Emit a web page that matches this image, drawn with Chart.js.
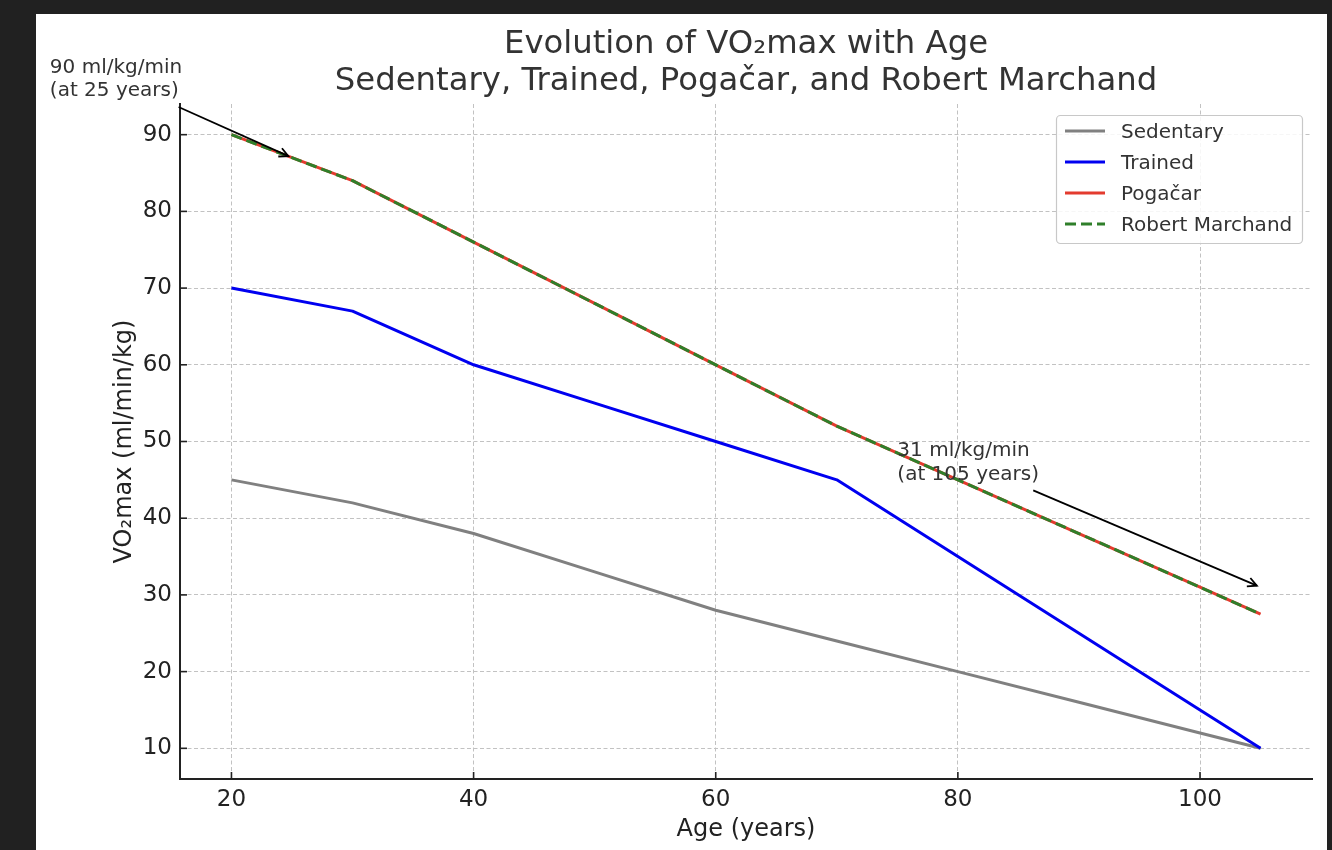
<!DOCTYPE html>
<html>
<head>
<meta charset="utf-8">
<script src="https://cdn.jsdelivr.net/npm/chart.js@4.4.1/dist/chart.umd.min.js"></script>
<style>
  html, body { margin: 0; padding: 0; background: #212121; }
  #wrap { position: absolute; left: 36px; top: 14px; width: 1291px; height: 836px; background: #fff; }
</style>
</head>
<body>
<div id="wrap"><canvas id="chart"></canvas></div>
<script>
/* ---------- Data ---------- */
const ages = [20, 30, 40, 50, 60, 70, 80, 90, 100, 105];
const sedentary = [45, 42, 38, 33, 28, 24, 20, 16, 12, 10];
const trained = [70, 67, 60, 55, 50, 45, 35, 25, 15, 10];
const pogacar = [90, 84, 76, 68, 60, 52, 45, 38, 31, 27.5];
const marchand = [90, 84, 76, 68, 60, 52, 45, 38, 31, 27.5];

const xTicks = [20, 40, 60, 80, 100];
const yTicks = [10, 20, 30, 40, 50, 60, 70, 80, 90];

const titleLines = ["Evolution of VO₂max with Age", "Sedentary, Trained, Pogačar, and Robert Marchand"];

// annotation text position and arrow target, in data units
const notes = [
    { text: ["90 ml/kg/min", "(at 25 years)"], at: [5, 95], target: [25, 87] },
    { text: ["31 ml/kg/min", "(at 105 years)"], at: [75, 45], target: [105, 31] }
];

const FONT = "'DejaVu Sans', 'Liberation Sans', sans-serif";

function points(ys) {
    return ages.map((a, i) => ({ x: a, y: ys[i] }));
}

/* ---------- Extra drawing: ticks, title, legend, arrows ---------- */
function line(ctx, x1, y1, x2, y2) {
    ctx.beginPath();
    ctx.moveTo(x1, y1);
    ctx.lineTo(x2, y2);
    ctx.stroke();
}

const decor = {
    id: "decor",
    afterDraw(chart) {
        const ctx = chart.ctx;
        const ca = chart.chartArea;
        const xs = chart.scales.x;
        const ys = chart.scales.y;
        ctx.save();

        // inward tick marks
        ctx.strokeStyle = "#222";
        ctx.lineWidth = 1.6;
        xTicks.forEach(v => {
            const px = xs.getPixelForValue(v);
            line(ctx, px, ca.bottom, px, ca.bottom - 7);
        });
        yTicks.forEach(v => {
            const py = ys.getPixelForValue(v);
            line(ctx, ca.left, py, ca.left + 7, py);
        });

        // title
        ctx.fillStyle = "#333";
        ctx.font = "32.3px " + FONT;
        ctx.textAlign = "center";
        ctx.textBaseline = "alphabetic";
        const cx = (ca.left + ca.right) / 2;
        ctx.fillText(titleLines[0], cx, 39);
        ctx.fillText(titleLines[1], cx, 76);

        // legend
        const bw = 246, bh = 128;
        const bx = ca.right - 10 - bw, by = ca.top + 11;
        ctx.beginPath();
        ctx.roundRect(bx + 0.5, by + 0.5, bw, bh, 4);
        ctx.fillStyle = "rgba(255,255,255,0.85)";
        ctx.fill();
        ctx.strokeStyle = "#c8c8c8";
        ctx.lineWidth = 1.2;
        ctx.stroke();
        ctx.font = "20px " + FONT;
        ctx.textAlign = "left";
        ctx.textBaseline = "middle";
        chart.data.datasets.forEach((ds, i) => {
            const ry = by + 16 + i * 31;
            ctx.strokeStyle = ds.borderColor;
            ctx.lineWidth = 3;
            ctx.setLineDash(ds.borderDash || []);
            line(ctx, bx + 9, ry, bx + 49, ry);
            ctx.setLineDash([]);
            ctx.fillStyle = "#333";
            ctx.fillText(ds.label, bx + 65, ry + 1.5);
        });

        // annotations
        ctx.font = "20px " + FONT;
        ctx.textAlign = "left";
        ctx.textBaseline = "alphabetic";
        notes.forEach(n => {
            const tx = xs.getPixelForValue(n.at[0]);
            const lastBase = ys.getPixelForValue(n.at[1]);
            const lh = 23.5;
            const firstBase = lastBase - lh * (n.text.length - 1);
            ctx.fillStyle = "#333";
            let w = 0;
            n.text.forEach((t, i) => {
                ctx.fillText(t, tx, firstBase + i * lh);
                w = Math.max(w, ctx.measureText(t).width);
            });
            const top = firstBase - 16, bottom = lastBase + 5;
            const left = tx, right = tx + w;
            const c = { x: (left + right) / 2, y: (top + bottom) / 2 };
            const t = { x: xs.getPixelForValue(n.target[0]), y: ys.getPixelForValue(n.target[1]) };
            const dx = t.x - c.x, dy = t.y - c.y;
            const len = Math.hypot(dx, dy);
            const ux = dx / len, uy = dy / len;
            let k = Infinity;
            if (dx > 0) k = Math.min(k, (right - c.x) / dx);
            if (dx < 0) k = Math.min(k, (left - c.x) / dx);
            if (dy > 0) k = Math.min(k, (bottom - c.y) / dy);
            if (dy < 0) k = Math.min(k, (top - c.y) / dy);
            const sx = c.x + dx * k + ux * 14, sy = c.y + dy * k + uy * 14;
            const ex = t.x - ux * 4, ey = t.y - uy * 4;
            ctx.strokeStyle = "#000";
            ctx.lineWidth = 1.8;
            line(ctx, sx, sy, ex, ey);
            const hl = 9, hw = 4.5;
            const bxp = ex - ux * hl, byp = ey - uy * hl;
            ctx.beginPath();
            ctx.moveTo(bxp - uy * hw, byp + ux * hw);
            ctx.lineTo(ex, ey);
            ctx.lineTo(bxp + uy * hw, byp - ux * hw);
            ctx.stroke();
        });

        ctx.restore();
    }
};

/* ---------- Chart ---------- */
function init() {
    const ctx = document.getElementById("chart").getContext("2d");

    new Chart(ctx, {
        type: "line",
        data: {
            datasets: [
                { label: "Sedentary", data: points(sedentary), borderColor: "#808080", order: 4 },
                { label: "Trained", data: points(trained), borderColor: "#0000f0", order: 3 },
                { label: "Pogačar", data: points(pogacar), borderColor: "#e33b2e", order: 2 },
                { label: "Robert Marchand", data: points(marchand), borderColor: "#2f7f2a", borderDash: [11, 5], order: 1 }
            ]
        },
        options: {
            responsive: true,
            maintainAspectRatio: false,
            animation: false,
            layout: { padding: { left: 0, top: 90, right: 15, bottom: 0 } },
            elements: {
                point: { radius: 0, hoverRadius: 0 },
                line: { borderWidth: 3, tension: 0, borderJoinStyle: "round", fill: false }
            },
            plugins: {
                legend: { display: false },
                title: { display: false },
                tooltip: { enabled: false }
            },
            scales: {
                x: {
                    type: "linear",
                    min: 15.75,
                    max: 109.25,
                    afterBuildTicks: s => { s.ticks = xTicks.map(v => ({ value: v })); },
                    afterFit: s => { s.height = 71; },
                    grid: { color: "#c2c2c2", lineWidth: 1, drawTicks: false },
                    border: { display: true, color: "#222", width: 2, dash: [4, 2.5] },
                    ticks: { color: "#222", padding: 7, font: { family: FONT, size: 23 }, maxRotation: 0 },
                    title: {
                        display: true, text: "Age (years)", color: "#222",
                        font: { family: FONT, size: 24 }, padding: { top: 0, bottom: 6 }
                    }
                },
                y: {
                    type: "linear",
                    min: 6,
                    max: 94,
                    afterBuildTicks: s => { s.ticks = yTicks.map(v => ({ value: v })); },
                    afterFit: s => { s.width = 144; },
                    grid: { color: "#c2c2c2", lineWidth: 1, drawTicks: false },
                    border: { display: true, color: "#222", width: 2, dash: [4, 2.5] },
                    ticks: { color: "#222", padding: 8, font: { family: FONT, size: 23 } },
                    title: {
                        display: true, text: "VO₂max (ml/min/kg)", color: "#222",
                        font: { family: FONT, size: 24 }, padding: { top: 74, bottom: 0 }
                    }
                }
            }
        },
        plugins: [decor]
    });
}

document.addEventListener("DOMContentLoaded", init);
</script>
</body>
</html>
